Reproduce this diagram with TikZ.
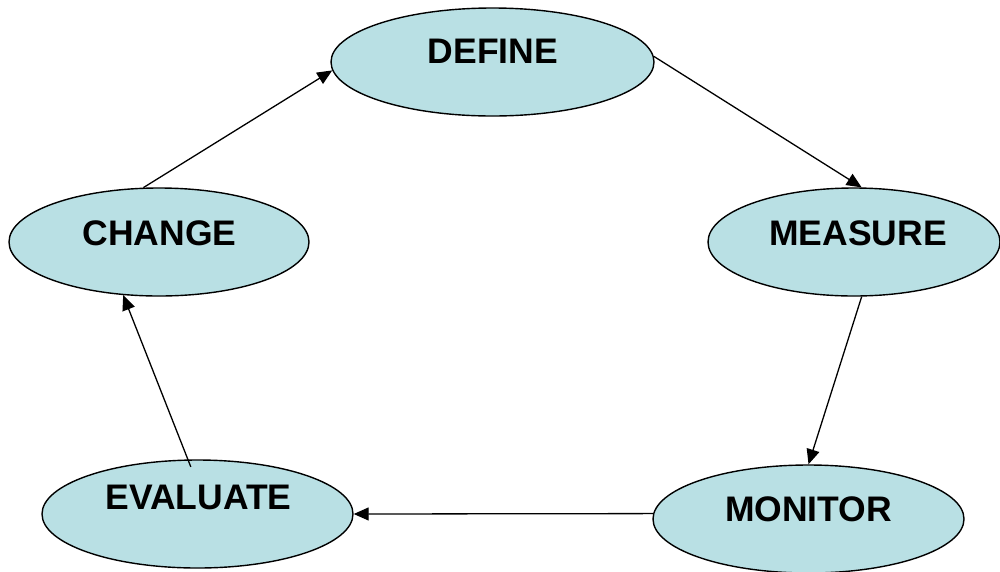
\documentclass[tikz,border=0pt]{standalone}
\usepackage{fontspec}
\setmainfont{Liberation Sans}
\usetikzlibrary{shapes.geometric,arrows.meta,calc}
\definecolor{ovalfill}{RGB}{185,224,228}
\begin{document}
\begin{tikzpicture}[x=1pt,y=-1pt,
  oval/.style={ellipse,draw=black,line width=1.4pt,fill=ovalfill,inner sep=0pt},
  lbl/.style={inner sep=0pt,text height=25pt,text depth=0pt,font=\fontsize{35.5}{42}\selectfont\bfseries},
  conn/.style={line width=1.3pt,-{Triangle[length=15pt,width=13pt]}}]
\useasboundingbox (0,0) rectangle (1000,571);
\node[oval,minimum width=323pt,minimum height=108pt] (df) at (492.5,62) {};
\node[oval,minimum width=292pt,minimum height=108pt] (ms) at (854,242) {};
\node[oval,minimum width=300pt,minimum height=108pt] (ch) at (159,242) {};
\node[oval,minimum width=311pt,minimum height=108pt] (ev) at (197.5,514) {};
\node[oval,minimum width=311pt,minimum height=108pt] (mo) at (808.5,519) {};
\node[lbl] (tdf) at (493,51) {DEFINE};
\node[lbl] (tms) at (858,233) {MEASURE};
\node[lbl] (tch) at (159.5,233) {CHANGE};
\node[lbl] (tev) at (198.5,497) {EVALUATE};
\node[lbl] (tmo) at (808.5,509) {MONITOR};
\draw[conn] (df.2) -- (ms.82);
\draw[conn] (ms.-82) -- (mo.90);
\draw[conn] (mo.178) -- (ev.0);
\draw[conn,shorten <=-8pt] (ev.100) -- (ch.-124);
\draw[conn] (ch.106) -- (df.183);
\end{tikzpicture}
\end{document}
